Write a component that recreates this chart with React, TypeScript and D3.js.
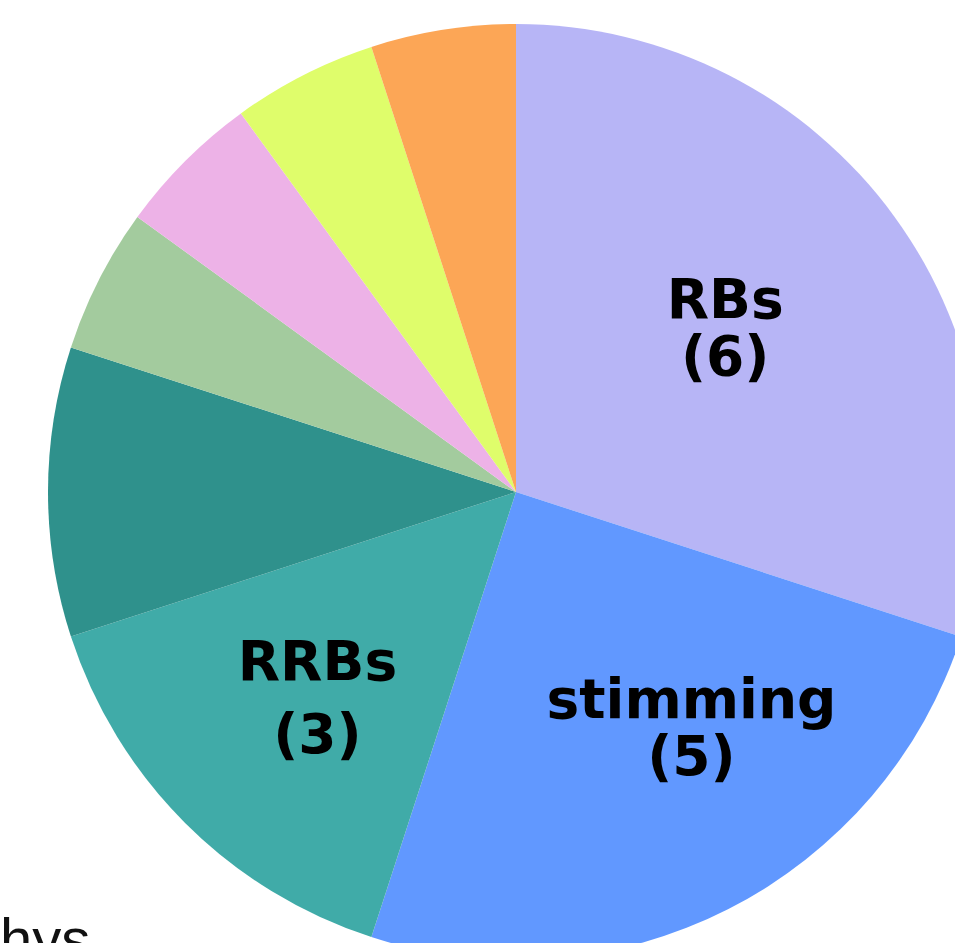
import { useEffect, useRef } from "react";
import * as d3 from "d3";

// slice data, in clockwise order from 12 o'clock
const categories = ["RBs", "stimming", "RRBs", "other A", "other B", "other C", "other D", "other E"];
const counts = [6, 5, 3, 2, 1, 1, 1, 1];
const colors = ["#b7b5f6", "#6198ff", "#40aba8", "#2f918c", "#a3cb9e", "#edb2e7", "#dffd6b", "#fca656"];
const labelled = ["RBs", "stimming", "RRBs"];

// small hand nudges so the labels sit where the original put them
const labelNudge: Record<string, [number, number]> = {
    RBs: [-18, 0],
    stimming: [48, -16],
    RRBs: [0, 6],
};
const lineGap: Record<string, number> = { RBs: 57, stimming: 57, RRBs: 73 };

export default function App() {
    const svgRef = useRef<SVGSVGElement>(null);

    useEffect(() => {
        const width = 955;
        const height = 943;
        const cx = 516;
        const cy = 492;
        const radius = 468;
        const fontSize = 55;
        const capHeight = 40;

        const svg = d3.select(svgRef.current)
            .attr("width", width)
            .attr("height", height)
            .style("position", "absolute")
            .style("left", 0)
            .style("top", 0)
            .style("background", "#ffffff");

        svg.selectAll("*").remove();

        const data = categories.map((c, i) => ({ name: c, value: counts[i], color: colors[i] }));

        const pie = d3.pie<typeof data[number]>()
            .value(d => d.value)
            .sort(null);

        const arc = d3.arc<d3.PieArcDatum<typeof data[number]>>()
            .innerRadius(0)
            .outerRadius(radius);

        const labelArc = d3.arc<d3.PieArcDatum<typeof data[number]>>()
            .innerRadius(radius * 0.6)
            .outerRadius(radius * 0.6);

        const g = svg.append("g").attr("transform", `translate(${cx},${cy})`);

        const arcs = pie(data);

        g.selectAll("path")
            .data(arcs)
            .enter()
            .append("path")
            .attr("d", arc)
            .attr("fill", d => d.data.color);

        // two-line labels: name, then (count)
        arcs.filter(d => labelled.includes(d.data.name)).forEach(d => {
            const [x, y] = labelArc.centroid(d);
            const [nx, ny] = labelNudge[d.data.name] || [0, 0];
            const gap = lineGap[d.data.name] || 57;
            const b1 = y + ny - (gap - capHeight) / 2;
            const t = g.append("text")
                .attr("text-anchor", "middle")
                .attr("font-family", "'DejaVu Sans', sans-serif")
                .attr("font-weight", "bold")
                .attr("font-size", fontSize)
                .attr("fill", "#000");
            t.append("tspan").attr("x", x + nx).attr("y", b1).text(d.data.name);
            t.append("tspan").attr("x", x + nx).attr("y", b1 + gap).text(`(${d.data.value})`);
        });

        // clipped fragment of a caption below the chart
        svg.append("text")
            .attr("x", 0)
            .attr("y", 959)
            .attr("font-family", "'Liberation Sans', Arial, sans-serif")
            .attr("font-size", 58)
            .attr("fill", "#111")
            .text("hys");
    }, []);

    return <svg ref={svgRef}></svg>;
}
